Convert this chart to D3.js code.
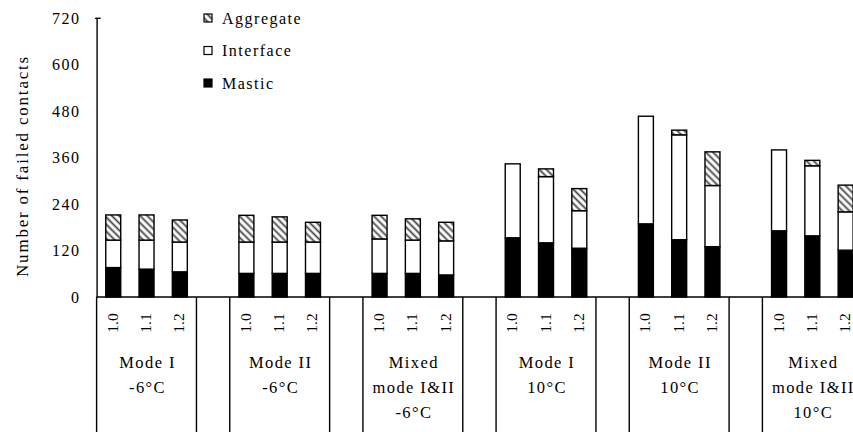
<!DOCTYPE html>
<html><head><meta charset="utf-8">
<script src="https://cdn.jsdelivr.net/npm/d3@7"></script>
<style>
body{margin:0;background:#fff;overflow:hidden}
svg{display:block}
text{font-family:"Liberation Serif","Times New Roman",serif;fill:#000}
</style>
</head><body><svg id="c" width="853" height="432"></svg>
<script>
// ---- data ----
const groupLabels = [
  ["Mode I","-6°C"],
  ["Mode II","-6°C"],
  ["Mixed","mode I&II","-6°C"],
  ["Mode I","10°C"],
  ["Mode II","10°C"],
  ["Mixed","mode I&II","10°C"]
];
const ratios = ["1.0","1.1","1.2"];
const mastic       = [76,72,65,  61,61,61,  61,61,57,  153,140,126, 189,148,130, 171,158,121];
const interfaceVal = [71,75,77,  81,81,81,  89,86,88,  191,171,97,  278,271,158, 209,181,99];
const aggregate    = [65,65,57,  69,65,51,  61,55,48,  0,20,57,     0,12,87,     0,14,69];
const yTicks = [0,120,240,360,480,600,720];
const legendNames = ["Aggregate","Interface","Mastic"];

// ---- layout ----
const svg = d3.select("#c");
const x0 = 96.6, slotW = 33.29, yTop = 18.3, yBot = 297;
const nSlots = groupLabels.length*4 - 1;
const slots = d3.range(nSlots);
const x = d3.scaleBand().domain(slots).range([x0, x0 + nSlots*slotW]).padding(0);
const y = d3.scaleLinear().domain([0,720]).range([yBot, yTop]);

const defs = svg.append("defs");
const pat = defs.append("pattern").attr("id","hatch")
  .attr("patternUnits","userSpaceOnUse").attr("width",5).attr("height",5)
  .attr("patternTransform","rotate(-45)");
pat.append("rect").attr("width",5).attr("height",5).attr("fill","#fff");
pat.append("line").attr("x1",1.5).attr("x2",1.5).attr("y1",0).attr("y2",5)
  .attr("stroke","#444").attr("stroke-width",1.8);

const fills = {mastic:"#000", iface:"#fff", aggregate:"url(#hatch)"};

const rows = mastic.map((m,i)=>({
  slot: Math.floor(i/3)*4 + (i%3),
  ratio: ratios[i%3],
  mastic: m, iface: interfaceVal[i], aggregate: aggregate[i]
}));
const keys = ["mastic","iface","aggregate"];
const stack = d3.stack().keys(keys)(rows);

const barW = x.bandwidth()*0.45;
stack.forEach(layer=>{
  svg.append("g").selectAll("rect").data(layer.filter(d=>d[1]-d[0]>0)).join("rect")
    .attr("x", d=> x(d.data.slot) + (x.bandwidth()-barW)/2)
    .attr("width", barW)
    .attr("y", d=> y(d[1]))
    .attr("height", d=> y(d[0]) - y(d[1]))
    .attr("fill", fills[layer.key])
    .attr("stroke","#000").attr("stroke-width",1.4);
});

// y axis
const yAxis = d3.axisLeft(y).tickValues(yTicks).tickSizeInner(0).tickSizeOuter(0).tickPadding(16);
const gy = svg.append("g").attr("transform",`translate(${x0},0)`).call(yAxis);
gy.select(".domain").attr("stroke","#000").attr("stroke-width",1.4);
gy.selectAll("text").attr("font-size",16).attr("letter-spacing","1.5px")
  .style("font-family",'"Liberation Serif","Times New Roman",serif');
svg.append("line").attr("x1",x0-1.5).attr("x2",x0+4).attr("y1",y(720)).attr("y2",y(720))
  .attr("stroke","#000").attr("stroke-width",1.4);

// x axis line
svg.append("line").attr("x1",x0).attr("x2",853).attr("y1",yBot).attr("y2",yBot)
  .attr("stroke","#000").attr("stroke-width",1.4);

// separators (group boundaries)
const seps = [];
groupLabels.forEach((g,gi)=>{ seps.push(gi*4); if (gi*4+3 < nSlots) seps.push(gi*4+3); });
const sepX = seps.map(s => x(s)).concat([x.range()[1]]);
svg.append("g").selectAll("line").data(sepX).join("line")
  .attr("x1", d=>d).attr("x2", d=>d)
  .attr("y1", yBot).attr("y2", 432)
  .attr("stroke","#000").attr("stroke-width",1.4);

// rotated ratio labels
svg.append("g").selectAll("text").data(rows).join("text")
  .attr("transform", d=>`translate(${x(d.slot)+x.bandwidth()/2-1},323) rotate(-90)`)
  .attr("text-anchor","middle").attr("dominant-baseline","central")
  .attr("font-size",15.5).text(d=>d.ratio);

// group labels
groupLabels.forEach((lines,gi)=>{
  const cx = x(gi*4+1) + x.bandwidth()/2;
  lines.forEach((t,li)=>{
    svg.append("text").attr("x",cx+1).attr("y",362+li*25)
      .attr("text-anchor","middle").attr("dominant-baseline","central")
      .attr("font-size",16.5).attr("letter-spacing","1.4px").text(t);
  });
});

// y title
svg.append("text").attr("transform","translate(22,166) rotate(-90)")
  .attr("text-anchor","middle").attr("dominant-baseline","central")
  .attr("font-size",17).attr("letter-spacing","1.8px").text("Number of failed contacts");

// legend
const legFill = {"Aggregate":"url(#hatch)","Interface":"#fff","Mastic":"#000"};
const lg = svg.append("g");
legendNames.forEach((n,i)=>{
  const cy = 18 + i*32.5;
  lg.append("rect").attr("x",204).attr("y",cy-4).attr("width",8).attr("height",8)
    .attr("fill",legFill[n]).attr("stroke","#000").attr("stroke-width",1.2);
  lg.append("text").attr("x",222).attr("y",cy).attr("dominant-baseline","central")
    .attr("font-size",16).attr("letter-spacing","1.5px").text(n);
});
</script>
</body></html>
